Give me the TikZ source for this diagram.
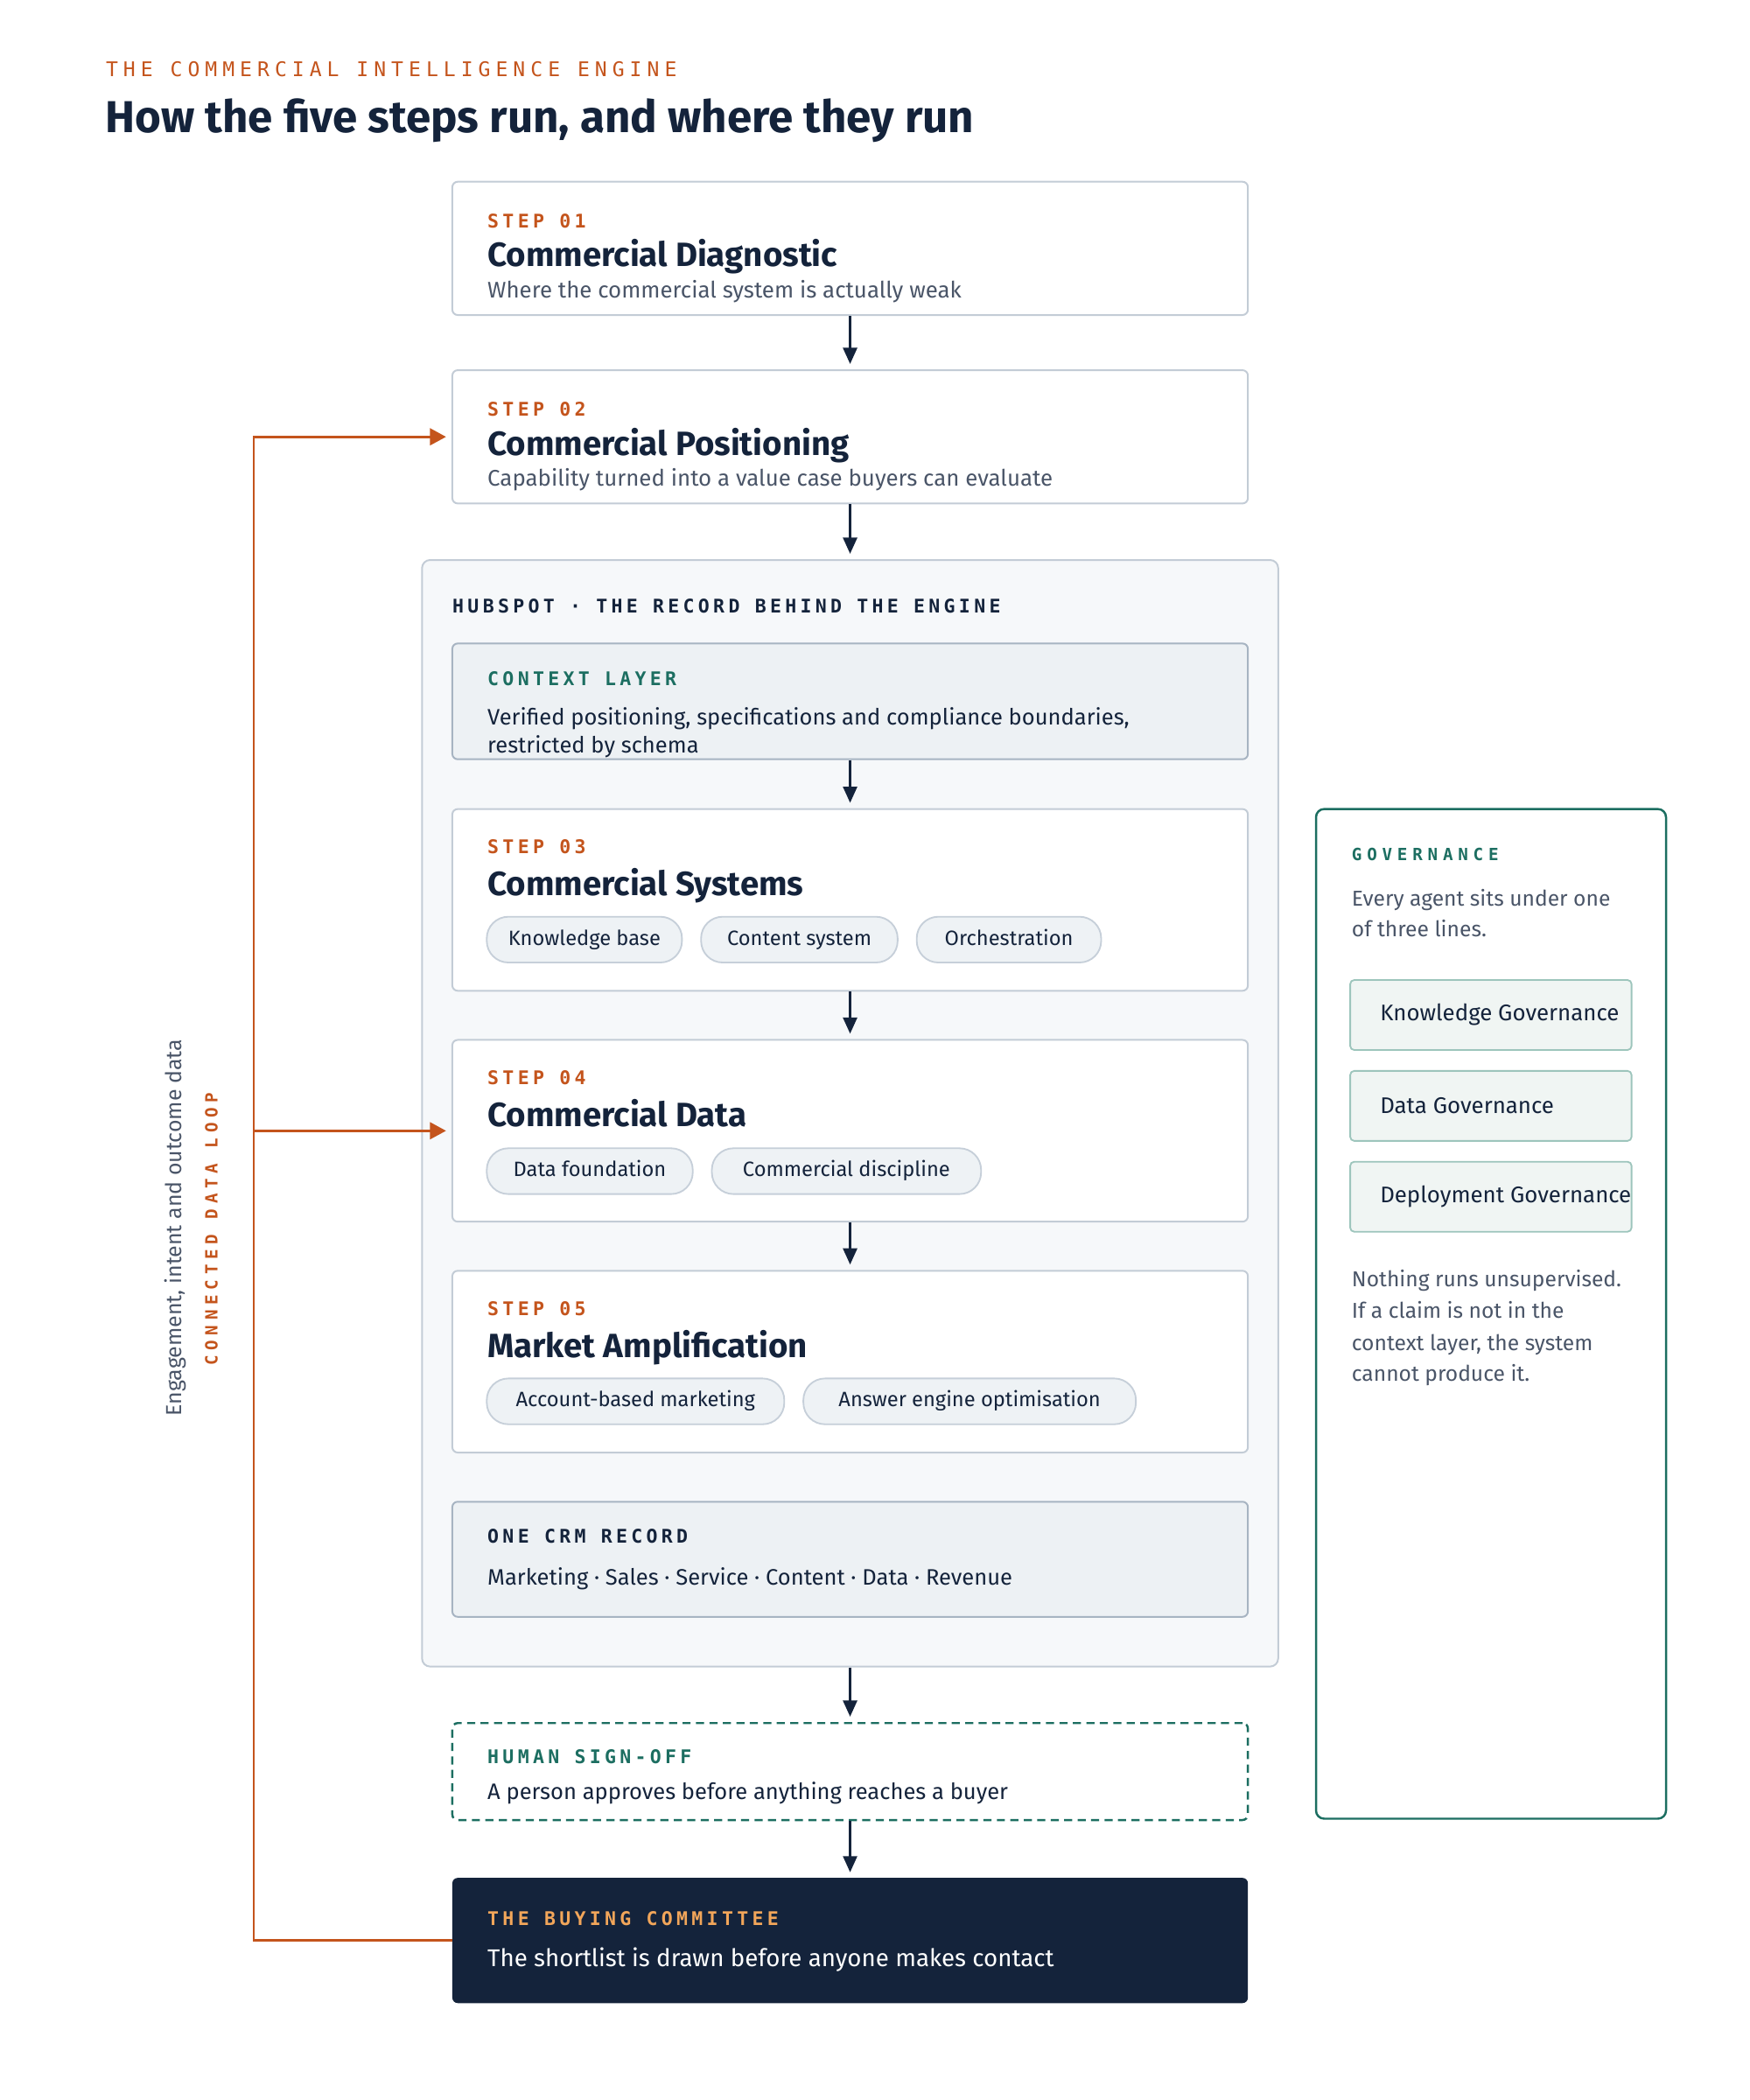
\documentclass[tikz,border=0pt]{standalone}
\usepackage{fontspec}
\setmainfont{Fira Sans}
\newfontfamily\monotight[LetterSpace=20]{DejaVu Sans Mono}
\newfontfamily\monowide[LetterSpace=30]{DejaVu Sans Mono}
\newfontfamily\monokick[LetterSpace=26]{DejaVu Sans Mono}
\usetikzlibrary{arrows.meta,positioning}
\definecolor{navy}{HTML}{14233B}
\definecolor{rust}{HTML}{C4541C}
\definecolor{gteal}{HTML}{1C6E61}
\definecolor{slate}{HTML}{4A5568}
\definecolor{edge}{HTML}{C3CCD6}
\definecolor{edgedark}{HTML}{A7B4C2}
\definecolor{panel}{HTML}{F6F8FA}
\definecolor{layer}{HTML}{EDF1F4}
\definecolor{pillfill}{HTML}{EEF2F5}
\definecolor{pilledge}{HTML}{C6CFD9}
\definecolor{govfill}{HTML}{F0F5F3}
\definecolor{govedge}{HTML}{9DC5BC}
\definecolor{amber}{HTML}{F2A65A}
\begin{document}
\begin{tikzpicture}[x=1pt,y=-1pt,
    stepbox/.style={draw=edge,line width=1.3pt,fill=white,rounded corners=4pt,minimum width=591pt,inner sep=0pt},
    layerbox/.style={stepbox,draw=edgedark,fill=layer},
    steplab/.style={font=\monotight\bfseries\fontsize{14}{16}\selectfont,text=rust,anchor=base west,inner sep=0pt},
    steptitle/.style={font=\bfseries\fontsize{25}{29}\selectfont,text=navy,anchor=base west,inner sep=0pt},
    stepsub/.style={font=\fontsize{16.8}{20}\selectfont,text=slate,anchor=base west,inner sep=0pt},
    bodytext/.style={font=\fontsize{16.6}{20}\selectfont,text=navy,anchor=base west,inner sep=0pt},
    pill/.style={draw=pilledge,fill=pillfill,line width=1.2pt,rounded corners=16pt,minimum height=34pt,inner xsep=4pt,inner ysep=0pt,text height=11.5pt,text depth=3.5pt,font=\fontsize{15.4}{18}\selectfont,text=navy},
    govbox/.style={draw=govedge,fill=govfill,line width=1.2pt,rounded corners=3pt,minimum width=209pt,minimum height=52pt,inner sep=0pt},
    govtext/.style={font=\fontsize{16}{19}\selectfont,text=slate,anchor=base west,inner sep=0pt},
    flow/.style={draw=navy,line width=1.4pt,-{Triangle[length=12pt,width=10.5pt]},shorten >=4pt},
    loopline/.style={draw=rust,line width=1.8pt}]
\useasboundingbox (0,0) rectangle (1300,1560);
%titolo
\node[font=\monokick\fontsize{15}{17}\selectfont,text=rust,anchor=base west,inner sep=0pt] (kicker) at (78.5,57) {THE COMMERCIAL INTELLIGENCE ENGINE};
\node[font=\bfseries\fontsize{33.2}{38}\selectfont,text=navy,anchor=base west,inner sep=0pt] (headline) at (78,98.5) {How the five steps run, and where they run};
%passo 1 e 2
\node[stepbox,minimum height=99pt] (s1) at (631.5,184.5) {};
\node[steplab] (s1lab) at (362,169) {STEP 01};
\node[steptitle] (s1tit) at (362,198) {Commercial Diagnostic};
\node[stepsub] (s1sub) at (362,221) {Where the commercial system is actually weak};
\node[stepbox,minimum height=99pt] (s2) at (631.5,324.5) {};
\node[steplab] (s2lab) at (362,309) {STEP 02};
\node[steptitle] (s2tit) at (362,338) {Commercial Positioning};
\node[stepsub] (s2sub) at (362,361) {Capability turned into a value case buyers can evaluate};
%hubspot
\node[draw=edge,line width=1.3pt,fill=panel,rounded corners=6pt,minimum width=636pt,minimum height=822pt,inner sep=0pt] (hub) at (631.5,827) {};
\node[font=\monotight\bfseries\fontsize{14}{16}\selectfont,text=navy,anchor=base west,inner sep=0pt] (hublab) at (336,455) {HUBSPOT · THE RECORD BEHIND THE ENGINE};
%context layer
\node[layerbox,minimum height=86pt] (ctx) at (631.5,521) {};
\node[steplab,text=gteal] (ctxlab) at (362,509.5) {CONTEXT LAYER};
\node[bodytext] (ctxa) at (362,538.5) {Verified positioning, specifications and compliance boundaries,};
\node[bodytext] (ctxb) at (362,559.5) {restricted by schema};
%passo 3
\node[stepbox,minimum height=135pt] (s3) at (631.5,668.5) {};
\node[steplab] (s3lab) at (362,634) {STEP 03};
\node[steptitle] (s3tit) at (362,665) {Commercial Systems};
\node[pill,anchor=west,minimum width=145pt] (kb) at (361,698) {Knowledge base};
\node[pill,right=13pt of kb,minimum width=146pt] (cs) {Content system};
\node[pill,right=13pt of cs,minimum width=137pt] (orch) {Orchestration};
%passo 4
\node[stepbox,minimum height=135pt] (s4) at (631.5,840) {};
\node[steplab] (s4lab) at (362,805.5) {STEP 04};
\node[steptitle] (s4tit) at (362,837) {Commercial Data};
\node[pill,anchor=west,minimum width=153pt] (df) at (361,870) {Data foundation};
\node[pill,right=13pt of df,minimum width=200pt] (cd) {Commercial discipline};
%passo 5
\node[stepbox,minimum height=135pt] (s5) at (631.5,1011.5) {};
\node[steplab] (s5lab) at (362,977.5) {STEP 05};
\node[steptitle] (s5tit) at (362,1008.5) {Market Amplification};
\node[pill,anchor=west,minimum width=221pt] (abm) at (361,1041) {Account-based marketing};
\node[pill,right=13pt of abm,minimum width=247pt] (aeo) {Answer engine optimisation};
%crm
\node[layerbox,minimum height=85.5pt] (crm) at (631.5,1158.3) {};
\node[steplab,text=navy] (crmlab) at (362,1146.5) {ONE CRM RECORD};
\node[bodytext] (crmtxt) at (362,1177.5) {Marketing · Sales · Service · Content · Data · Revenue};
%firma umana
\node[draw=gteal,line width=1.6pt,dash pattern=on 6pt off 4pt,fill=white,rounded corners=4pt,minimum width=591pt,minimum height=72pt,inner sep=0pt] (human) at (631.5,1316) {};
\node[steplab,text=gteal] (humlab) at (362,1310) {HUMAN SIGN-OFF};
\node[bodytext] (humtxt) at (362,1337) {A person approves before anything reaches a buyer};
%comitato
\node[fill=navy,rounded corners=4pt,minimum width=591pt,minimum height=93pt,inner sep=0pt] (buy) at (631.5,1441.5) {};
\node[steplab,text=amber] (buylab) at (362,1430) {THE BUYING COMMITTEE};
\node[bodytext,text=white,font=\fontsize{18}{21}\selectfont] (buytxt) at (362,1461) {The shortlist is drawn before anyone makes contact};
%frecce
\draw[flow] (s1) -- (s2);
\draw[flow] (s2) -- (hub);
\draw[flow] (ctx) -- (s3);
\draw[flow] (s3) -- (s4);
\draw[flow] (s4) -- (s5);
\draw[flow] (hub) -- (human);
\draw[flow] (human) -- (buy);
%anello dati
\coordinate (looptop) at (188.5,324.5);
\coordinate (loopmid) at (188.5,840);
\draw[loopline,-{Triangle[length=12pt,width=12.5pt]},shorten >=4pt] (buy.west) -| (looptop) -- (s2.west);
\draw[loopline,-{Triangle[length=12pt,width=12.5pt]},shorten >=4pt] (loopmid) -- (s4.west);
\node[rotate=90,font=\fontsize{16.2}{18}\selectfont,text=slate,inner sep=0pt] (loopdata) at (130,912) {Engagement, intent and outcome data};
\node[rotate=90,font=\monowide\bfseries\fontsize{12.5}{14}\selectfont,text=rust,inner sep=0pt] (looplab) at (157,913) {CONNECTED DATA LOOP};
%governance
\node[draw=gteal,line width=1.6pt,fill=white,rounded corners=6pt,minimum width=260pt,minimum height=750pt,inner sep=0pt] (gov) at (1107.6,976) {};
\node[font=\monowide\bfseries\fontsize{12.5}{14}\selectfont,text=gteal,anchor=base west,inner sep=0pt] (govlab) at (1004,639) {GOVERNANCE};
\node[govtext] (gova) at (1004,673) {Every agent sits under one};
\node[govtext] (govb) at (1004,696) {of three lines.};
\node[govbox] (kg) at (1107.5,754) {};
\node[bodytext,anchor=west,font=\fontsize{16.8}{20}\selectfont] (kgt) at (1025,754) {Knowledge Governance};
\node[govbox] (dg) at (1107.5,821.5) {};
\node[bodytext,anchor=west,font=\fontsize{16.8}{20}\selectfont] (dgt) at (1025,821.5) {Data Governance};
\node[govbox] (pg) at (1107.5,889) {};
\node[bodytext,anchor=west,font=\fontsize{16.8}{20}\selectfont] (pgt) at (1025,889) {Deployment Governance};
\node[govtext] (govc) at (1004,956) {Nothing runs unsupervised.};
\node[govtext] (govd) at (1004,979) {If a claim is not in the};
\node[govtext] (gove) at (1004,1003) {context layer, the system};
\node[govtext] (govf) at (1004,1026) {cannot produce it.};
\end{tikzpicture}
\end{document}
